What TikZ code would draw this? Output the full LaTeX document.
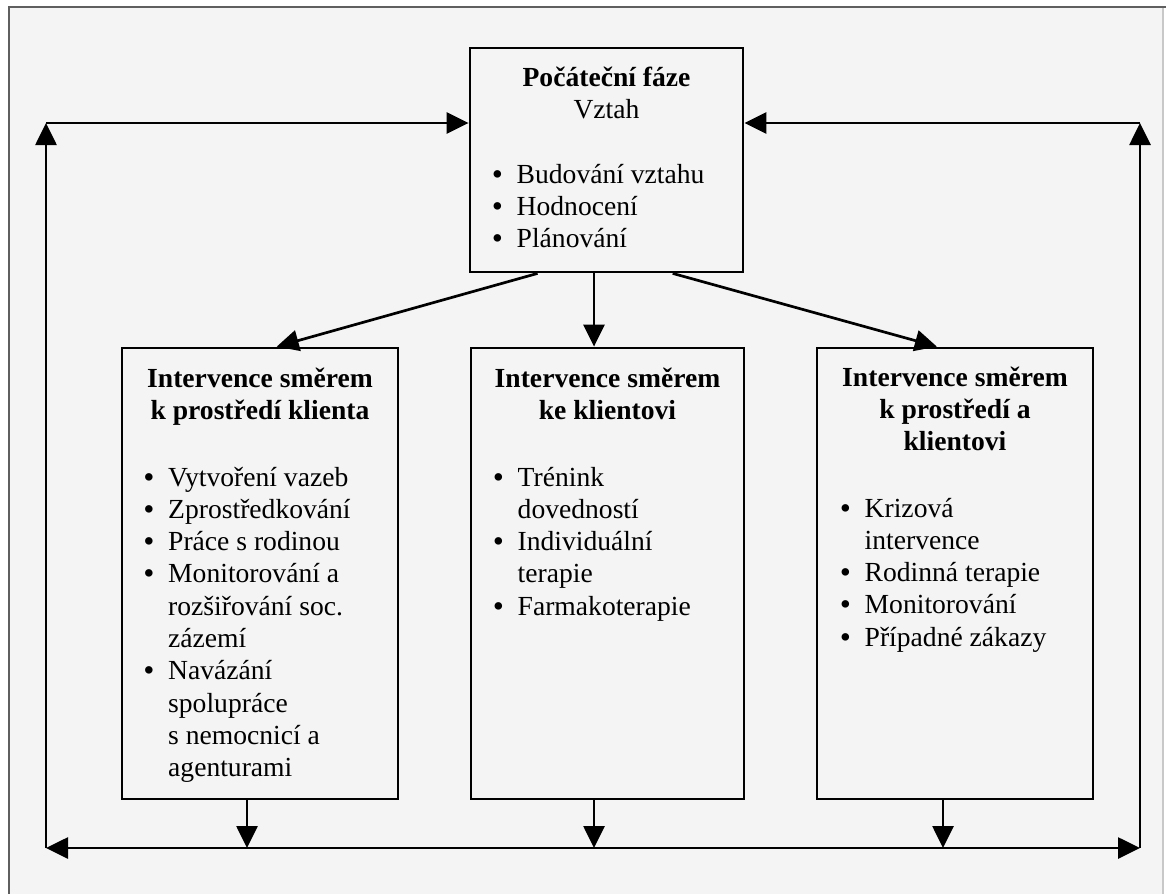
\documentclass[tikz,border=0pt]{standalone}
\usepackage{fontspec}
\setmainfont{Liberation Serif}
\usetikzlibrary{arrows.meta,calc}
\definecolor{paper}{RGB}{244,244,244}
\definecolor{frameline}{RGB}{95,95,95}
\definecolor{framelight}{RGB}{200,200,200}
\newcommand\bul{\makebox[24pt][l]{\textbf{\textbullet}}}
\newcommand\ind{\hspace*{24pt}}
\begin{document}
\begin{tikzpicture}[x=1pt,y=-1pt,
  box/.style={draw, line width=2.8pt, inner sep=0pt, fill=paper},
  conn/.style={line width=2.7pt, -{Triangle[length=22pt,width=21pt]}},
  both/.style={line width=2.7pt, {Triangle[length=22pt,width=21pt]}-{Triangle[length=22pt,width=21pt]}},
  ttl/.style={anchor=base, inner sep=0pt, font=\fontsize{27.6}{32.3}\selectfont},
  lst/.style={anchor=base west, inner sep=0pt, font=\fontsize{27.6}{32.3}\selectfont},
]
\useasboundingbox (0,0) rectangle (1171,894);
\fill[white] (0,0) rectangle (1171,894);
\fill[paper] (9,7) rectangle (1163,894);
\draw[framelight, line width=1.5pt] (1163,7) -- (1163,894);
\draw[frameline, line width=2pt] (9,894) -- (9,7) -- (1166,7);

% boxes
\node[box, minimum width=273pt, minimum height=224pt] (top) at (606.5,160) {};
\node[box, minimum width=276pt, minimum height=451pt] (L) at (260,573.5) {};
\node[box, minimum width=273pt, minimum height=451pt] (M) at (607.5,573.5) {};
\node[box, minimum width=276pt, minimum height=451pt] (R) at (955,573.5) {};

% texts
\node[ttl] (topT) at (606.5,86) {\parbox[t]{260pt}{\centering\textbf{Počáteční fáze}\\Vztah}};
\node[lst] (topB) at (492.5,183) {\parbox[t]{240pt}{\bul Budování vztahu\\\bul Hodnocení\\\bul Plánování}};

\node[ttl] (LT) at (260,387) {\parbox[t]{270pt}{\centering\bfseries Intervence směrem\\k prostředí klienta}};
\node[lst] (LB) at (144,486) {\parbox[t]{250pt}{\bul Vytvoření vazeb\\\bul Zprostředkování\\\bul Práce s rodinou\\\bul Monitorování a\\\ind rozšiřování soc.\\\ind zázemí\\\bul Navázání\\\ind spolupráce\\\ind s nemocnicí a\\\ind agenturami}};

\node[ttl] (MT) at (607.5,387) {\parbox[t]{270pt}{\centering\bfseries Intervence směrem\\ke klientovi}};
\node[lst] (MB) at (493.5,486) {\parbox[t]{245pt}{\bul Trénink\\\ind dovedností\\\bul Individuální\\\ind terapie\\\bul Farmakoterapie}};

\node[ttl] (RT) at (955,386) {\parbox[t]{270pt}{\centering\bfseries Intervence směrem\\k prostředí a\\klientovi}};
\node[lst] (RB) at (840.5,517) {\parbox[t]{245pt}{\bul Krizová\\\ind intervence\\\bul Rodinná terapie\\\bul Monitorování\\\bul Případné zákazy}};

% coordinates
\coordinate (bl) at (46,848);
\coordinate (br) at (1140,848);
\coordinate (tl) at (46,123);
\coordinate (tr) at (1140,123);
\coordinate (lx) at (247,0);
\coordinate (mx) at (594,0);
\coordinate (rx) at (943,0);
\coordinate (tL) at ($(top.south west)!0.25!(top.south east)$);
\coordinate (hL) at ($(L.north west)!0.56!(L.north east)$);
\coordinate (tR) at ($(top.south west)!0.74!(top.south east)$);
\coordinate (hR) at ($(R.north west)!0.435!(R.north east)$);

% connectors from top box
\draw[conn] (tL) -- (hL);
\draw[conn] (top.south -| mx) -- (M.north -| mx);
\draw[conn] (tR) -- (hR);

% connectors to bottom line
\draw[conn] (L.south -| lx) -- (bl -| lx);
\draw[conn] (M.south -| mx) -- (bl -| mx);
\draw[conn] (R.south -| rx) -- (bl -| rx);

% feedback loop
\draw[both] (bl) -- (br);
\draw[conn] (bl) -- (tl);
\draw[conn] (tl) -- (top.west |- tl);
\draw[conn] (br) -- (tr);
\draw[conn] (tr) -- (top.east |- tr);
\end{tikzpicture}
\end{document}
